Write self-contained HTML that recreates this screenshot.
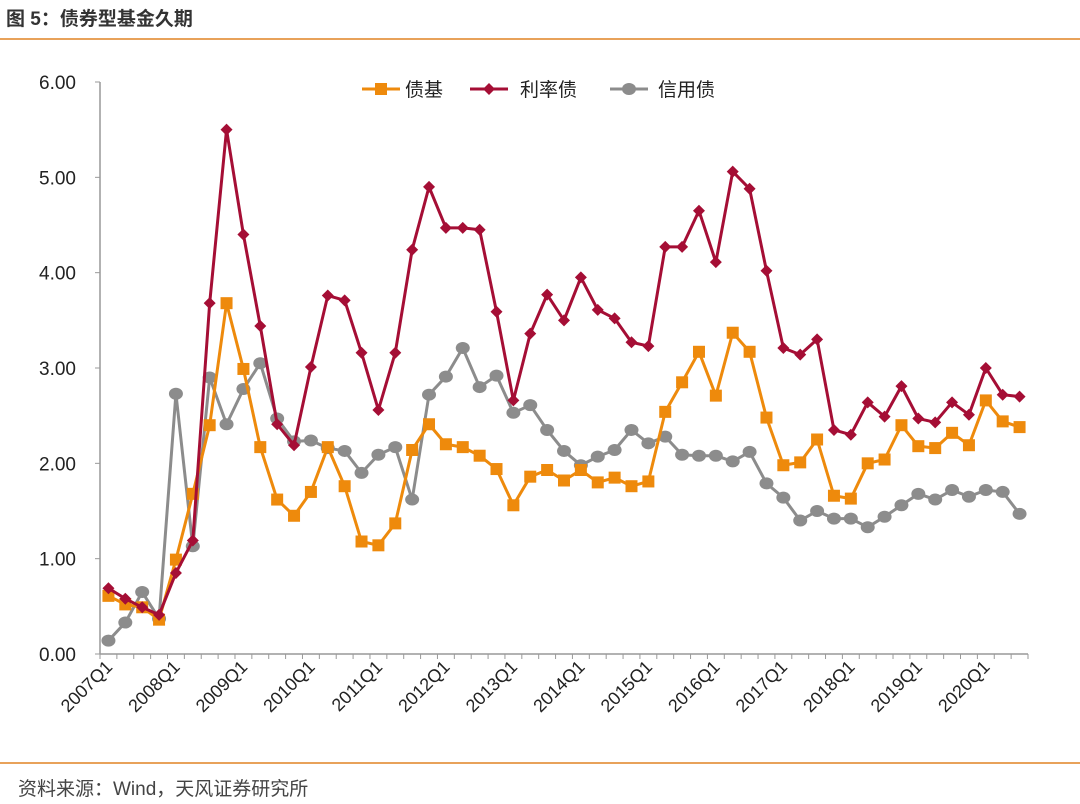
<!DOCTYPE html>
<html><head><meta charset="utf-8"><style>
body{margin:0;background:#fff;width:1080px;height:804px;overflow:hidden;font-family:"Liberation Sans","Noto Sans CJK SC",sans-serif;}
</style></head><body>
<div style="position:absolute;left:6px;top:4px;font-size:19px;font-weight:bold;color:#333;">图 5：债券型基金久期</div>
<div style="position:absolute;left:0;top:38px;width:1080px;height:2px;background:#e8a25a;"></div>
<div style="position:absolute;left:0;top:762px;width:1080px;height:2px;background:#e8a25a;"></div>
<div style="position:absolute;left:18px;top:774px;font-size:19px;color:#444;">资料来源：Wind，天风证券研究所</div>
<svg id="chart" width="1080" height="804" style="position:absolute;left:0;top:0" xmlns="http://www.w3.org/2000/svg"></svg>
<script>
const categories=[];for(let y=2007;y<=2020;y++)for(let q=1;q<=4;q++)categories.push(y+'Q'+q);categories.length=55;
const bondFund=[0.61,0.52,0.49,0.36,0.99,1.68,2.40,3.68,2.99,2.17,1.62,1.45,1.70,2.17,1.76,1.18,1.14,1.37,2.14,2.41,2.20,2.17,2.08,1.94,1.56,1.86,1.93,1.82,1.93,1.80,1.85,1.76,1.81,2.54,2.85,3.17,2.71,3.37,3.17,2.48,1.98,2.01,2.25,1.66,1.63,2.00,2.04,2.40,2.18,2.16,2.32,2.19,2.66,2.44,2.38];
const rateBond=[0.69,0.58,0.49,0.41,0.85,1.19,3.68,5.50,4.40,3.44,2.41,2.19,3.01,3.76,3.71,3.16,2.56,3.16,4.24,4.90,4.47,4.47,4.45,3.59,2.66,3.36,3.77,3.50,3.95,3.61,3.52,3.27,3.23,4.27,4.27,4.65,4.11,5.06,4.88,4.02,3.21,3.14,3.30,2.35,2.30,2.64,2.49,2.81,2.47,2.43,2.64,2.51,3.00,2.72,2.70];
const creditBond=[0.14,0.33,0.65,0.37,2.73,1.13,2.90,2.41,2.78,3.05,2.47,2.23,2.24,2.16,2.13,1.90,2.09,2.17,1.62,2.72,2.91,3.21,2.80,2.92,2.53,2.61,2.35,2.13,1.98,2.07,2.14,2.35,2.21,2.28,2.09,2.08,2.08,2.02,2.12,1.79,1.64,1.40,1.50,1.42,1.42,1.33,1.44,1.56,1.68,1.62,1.72,1.65,1.72,1.70,1.47];
const yTicks=[0,1,2,3,4,5,6];
const NS='http://www.w3.org/2000/svg';const svg=document.getElementById('chart');
const L=100,R=1028,T=82,B=654,yMax=6;const step=(R-L)/categories.length;
const xs=i=>L+step*(i+0.5);const ys=v=>B-(v/yMax)*(B-T);
function mk(t,a){const e=document.createElementNS(NS,t);for(const k in a)e.setAttribute(k,a[k]);svg.appendChild(e);return e;}
let e=mk('line',{x1:L,y1:T,x2:L,y2:B,stroke:'#999','stroke-width':1.5});

e=mk('line',{x1:L,y1:B,x2:R,y2:B,stroke:'#999','stroke-width':1.5});

yTicks.forEach(v=>{mk('line',{x1:L-5,y1:ys(v),x2:L,y2:ys(v),stroke:'#999'});
const t=mk('text',{x:76,y:ys(v)+7,'text-anchor':'end','font-size':19,fill:'#222'});t.textContent=v.toFixed(2);
});
for(let i=0;i<=categories.length;i++)mk('line',{x1:L+step*i,y1:B,x2:L+step*i,y2:B+5,stroke:'#999'});
categories.forEach((c,i)=>{if(i%4)return;const x=xs(i)+5,y=668;
const t=mk('text',{x:x,y:y,'text-anchor':'end','font-size':18,fill:'#222',transform:`rotate(-45 ${x} ${y})`});t.textContent=c;
});
function marker(kind,x,y,col){if(kind==='sq')return mk('rect',{x:x-6,y:y-6,width:12,height:12,fill:col});
if(kind==='dia')return mk('path',{d:`M${x} ${y-6}L${x+6} ${y}L${x} ${y+6}L${x-6} ${y}Z`,fill:col});
return mk('ellipse',{cx:x,cy:y,rx:7,ry:6,fill:col});}
const series=[[creditBond,'#8c8c8c','circ','credit-bond'],[bondFund,'#ee8a0c','sq','bond-fund'],[rateBond,'#a50e35','dia','rate-bond']];
series.forEach(([d,col,k,n])=>{const p=mk('polyline',{points:d.map((v,i)=>xs(i)+','+ys(v)).join(' '),fill:'none',stroke:col,'stroke-width':3,'stroke-linejoin':'round'});

d.forEach((v,i)=>{const m=marker(k,xs(i),ys(v),col);});});
const leg=[[362,405,'#ee8a0c','sq','债基'],[470,520,'#a50e35','dia','利率债'],[610,658,'#8c8c8c','circ','信用债']];
leg.forEach(([x,tx,col,k,lab])=>{mk('line',{x1:x,y1:89,x2:x+38,y2:89,stroke:col,'stroke-width':3});marker(k,x+19,89,col);
const t=mk('text',{x:tx,y:96,'font-size':19,fill:'#222'});t.textContent=lab;
});
</script>
</body></html>
